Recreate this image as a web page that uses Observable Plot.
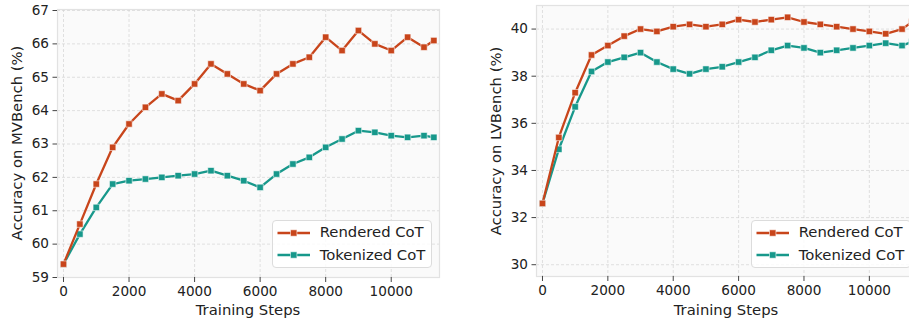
<!DOCTYPE html>
<html><head><meta charset="utf-8">
<script src="https://cdn.jsdelivr.net/npm/d3@7"></script>
<script src="https://cdn.jsdelivr.net/npm/@observablehq/plot@0.6"></script>
<style>
html,body{margin:0;padding:0;background:#fff;}
body{width:909px;height:323px;overflow:hidden;position:relative;font-family:"DejaVu Sans",sans-serif;color:#222;}
.panel{position:absolute;top:0;}
.lab{position:absolute;white-space:nowrap;font-size:14.8px;line-height:1;color:#222;}
.legend{position:absolute;background:rgba(255,255,255,0.85);border:1px solid #dcdcdc;border-radius:4px;box-sizing:border-box;}
.entry{position:absolute;left:0;top:0;white-space:nowrap;font-size:14.8px;line-height:1;color:#222;}
.entry svg{position:absolute;}
.entry span{position:absolute;}
</style>
</head><body>
<script>
const steps = [0,500,1000,1500,2000,2500,3000,3500,4000,4500,5000,5500,6000,6500,7000,7500,8000,8500,9000,9500,10000,10500,11000,11300];
const mvRendered  = [59.4,60.6,61.8,62.9,63.6,64.1,64.5,64.3,64.8,65.4,65.1,64.8,64.6,65.1,65.4,65.6,66.2,65.8,66.4,66.0,65.8,66.2,65.9,66.1];
const mvTokenized = [59.4,60.3,61.1,61.8,61.9,61.95,62.0,62.05,62.1,62.2,62.05,61.9,61.7,62.1,62.4,62.6,62.9,63.15,63.4,63.35,63.25,63.2,63.25,63.2];
const lvRendered  = [32.6,35.4,37.3,38.9,39.3,39.7,40.0,39.9,40.1,40.2,40.1,40.2,40.4,40.3,40.4,40.5,40.3,40.2,40.1,40.0,39.9,39.8,40.0,40.3];
const lvTokenized = [32.6,34.9,36.7,38.2,38.6,38.8,39.0,38.6,38.3,38.1,38.3,38.4,38.6,38.8,39.1,39.3,39.2,39.0,39.1,39.2,39.3,39.4,39.3,39.45];
const seriesNames = ["Rendered CoT","Tokenized CoT"];
const seriesColors = ["#c8451b","#17988b"];
const xTicks = [0,2000,4000,6000,8000,10000];
const mvTicks = [59,60,61,62,63,64,65,66,67];
const lvTicks = [30,32,34,36,38,40];
const xLabel = "Training Steps";
const mvLabel = "Accuracy on MVBench (%)";
const lvLabel = "Accuracy on LVBench (%)";

function panel({left, width, mL, mR, mT, mB, yDomain, yTicks, series}) {
  const marks = [
    Plot.frame({fill:"#fafafa", stroke:"none"}),
    Plot.gridX(xTicks, {stroke:"#cfcfcf", strokeOpacity:0.8, strokeDasharray:"3,2", strokeWidth:0.8}),
    Plot.gridY(yTicks, {stroke:"#cfcfcf", strokeOpacity:0.8, strokeDasharray:"3,2", strokeWidth:0.8}),
    Plot.frame({stroke:"#e2e2e2", strokeWidth:1.2}),
    Plot.axisX({ticks:xTicks, tickSize:5, tickPadding:4, tickFormat:d=>String(d), label:null, stroke:"#444", fill:"#222"}),
    Plot.axisY({ticks:yTicks, tickSize:4.5, tickPadding:4, tickFormat:d=>String(d), label:null, stroke:"#444", fill:"#222"})
  ];
  for (let k = series.length - 1; k >= 0; k--) {
    const data = steps.map((s,i)=>({x:s, y:series[k][i]}));
    marks.push(Plot.line(data, {x:"x", y:"y", stroke:seriesColors[k], strokeWidth:2.3}));
    marks.push(Plot.dot(data, {x:"x", y:"y", symbol:"square", r:3.6, fill:seriesColors[k], stroke:"#ffffff", strokeOpacity:0.55, strokeWidth:1}));
  }
  const p = Plot.plot({
    width, height:323,
    marginLeft:mL, marginRight:mR, marginTop:mT, marginBottom:mB,
    x:{domain:[-183,11473]},
    y:{domain:yDomain},
    style:{fontFamily:"DejaVu Sans, sans-serif", fontSize:"13.6px", background:"transparent", overflow:"visible"},
    marks
  });
  p.classList.add("panel");
  p.style.left = left + "px";
  document.body.appendChild(p);
}

panel({left:0, width:460, mL:57, mR:21, mT:9, mB:46, yDomain:[59,67.03], yTicks:mvTicks, series:[mvRendered, mvTokenized]});
panel({left:480, width:440, mL:56, mR:3, mT:5, mB:47, yDomain:[29.5,41], yTicks:lvTicks, series:[lvRendered, lvTokenized]});

function label(text, cx, cy, rotate) {
  const d = document.createElement("div");
  d.className = "lab";
  d.textContent = text;
  d.style.left = cx + "px";
  d.style.top = cy + "px";
  d.style.transform = "translate(-50%,-50%)" + (rotate ? " rotate(-90deg)" : "");
  document.body.appendChild(d);
}
label(xLabel, 248, 309.5, false);
label(xLabel, 726, 309.5, false);
label(mvLabel, 17.3, 143, true);
label(lvLabel, 496.3, 140.5, true);

function legend(left, top, w, h) {
  const box = document.createElement("div");
  box.className = "legend";
  Object.assign(box.style, {left:left+"px", top:top+"px", width:w+"px", height:h+"px"});
  const svgNS = "http://www.w3.org/2000/svg";
  seriesNames.forEach((name, k) => {
    const e = document.createElement("div");
    e.className = "entry";
    const cy = 11.7 + k*22.6;
    const s = document.createElementNS(svgNS, "svg");
    s.setAttribute("width", 34); s.setAttribute("height", 12);
    s.style.left = "4px"; s.style.top = (cy - 6) + "px";
    const ln = document.createElementNS(svgNS, "line");
    ln.setAttribute("x1", 0.5); ln.setAttribute("x2", 33); ln.setAttribute("y1", 6); ln.setAttribute("y2", 6);
    ln.setAttribute("stroke", seriesColors[k]); ln.setAttribute("stroke-width", 2.3);
    const r = document.createElementNS(svgNS, "rect");
    r.setAttribute("x", 13.5); r.setAttribute("y", 2.8); r.setAttribute("width", 6.4); r.setAttribute("height", 6.4);
    r.setAttribute("fill", seriesColors[k]); r.setAttribute("stroke", "#fff"); r.setAttribute("stroke-opacity", 0.55);
    s.appendChild(ln); s.appendChild(r);
    const t = document.createElement("span");
    t.textContent = name;
    t.style.left = "47px";
    t.style.top = (cy - 7.4) + "px";
    e.appendChild(s); e.appendChild(t);
    box.appendChild(e);
  });
  document.body.appendChild(box);
}
legend(271.7, 220, 160.3, 48.3);
legend(750.7, 220, 160.3, 48.3);
</script>
</body></html>
